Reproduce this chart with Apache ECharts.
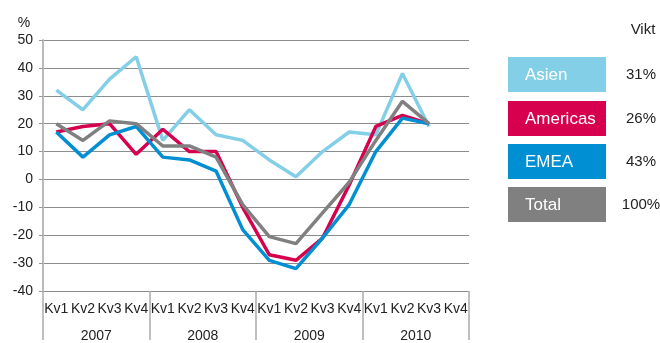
<!DOCTYPE html>
<html>
<head>
<meta charset="utf-8">
<script src="https://cdn.jsdelivr.net/npm/echarts@6/dist/echarts.min.js"></script>
<style>
  html, body { margin: 0; padding: 0; background: #fff; }
  #main { width: 660px; height: 343px; }
</style>
</head>
<body>
<div id="main"></div>
<script>
const quarters = ['Kv1', 'Kv2', 'Kv3', 'Kv4', 'Kv1', 'Kv2', 'Kv3', 'Kv4',
    'Kv1', 'Kv2', 'Kv3', 'Kv4', 'Kv1', 'Kv2', 'Kv3', 'Kv4'];
const years = ['2007', '2008', '2009', '2010'];

const asien = [32, 25, 36, 44, 14, 25, 16, 14, 7, 1, 10, 17, 16, 38, 19, null];
const americas = [17, 19, 20, 9, 18, 10, 10, -10, -27, -29, -21, -2, 19, 23, 20, null];
const emea = [17, 8, 16, 19, 8, 7, 3, -18, -29, -32, -21, -9, 10, 22, 20, null];
const total = [20, 14, 21, 20, 12, 12, 8, -9, -20.5, -23, -12, -1, 14, 28, 20, null];

const names = ['Asien', 'Americas', 'EMEA', 'Total'];
const weights = ['31%', '26%', '43%', '100%'];
const colors = ['#84cfe8', '#d7004e', '#008fd3', '#808080'];

const font = '"Liberation Sans", Arial, sans-serif';
const chart = echarts.init(document.getElementById('main'));

// legend boxes on the right
const boxTop = [57, 101, 144, 187];
const legend = [];
names.forEach((n, i) => {
    legend.push({
        type: 'rect',
        shape: {x: 508, y: boxTop[i], width: 98, height: 35},
        style: {fill: colors[i]}
    });
    legend.push({
        type: 'text',
        x: 525, y: boxTop[i] + 18,
        style: {text: n, fill: '#fff', font: '17px ' + font, verticalAlign: 'middle'}
    });
    legend.push({
        type: 'text',
        x: 641, y: boxTop[i] + 18,
        style: {text: weights[i], fill: '#222', font: '15px ' + font, align: 'center', verticalAlign: 'middle'}
    });
});
legend.push({
    type: 'text', x: 643, y: 30,
    style: {text: 'Vikt', fill: '#222', font: '15px ' + font, align: 'center', verticalAlign: 'middle'}
});
legend.push({
    type: 'text', x: 24, y: 23,
    style: {text: '%', fill: '#222', font: '14px ' + font, align: 'center', verticalAlign: 'middle'}
});

const line = (name, data, color) => ({
    name: name,
    type: 'line',
    data: data,
    symbol: 'none',
    lineStyle: {width: 3.5, color: color},
    itemStyle: {color: color}
});

const option = {
    animation: false,
    textStyle: {fontFamily: font},
    grid: {left: 43, right: 191, top: 40, bottom: 49},
    xAxis: [
        {
            type: 'category',
            data: quarters,
            boundaryGap: true,
            axisLine: {show: false},
            axisTick: {show: false},
            axisLabel: {interval: 0, margin: 11, fontSize: 14, color: '#222'}
        },
        {
            type: 'category',
            data: years,
            position: 'bottom',
            boundaryGap: true,
            axisLine: {show: false},
            axisTick: {show: true, length: 49, interval: 0, lineStyle: {color: '#aaa', width: 1.5}},
            axisLabel: {interval: 0, margin: 38, fontSize: 14, color: '#222'},
            splitLine: {show: false}
        }
    ],
    yAxis: {
        type: 'value',
        min: -40,
        max: 50,
        interval: 10,
        axisLine: {show: true, lineStyle: {color: '#bbb', width: 2}},
        axisTick: {show: true, length: 4, lineStyle: {color: '#999'}},
        axisLabel: {margin: 10, fontSize: 14, color: '#222'},
        splitLine: {lineStyle: {color: '#8c8c8c', width: 1}}
    },
    graphic: legend,
    series: [
        line('Asien', asien, colors[0]),
        line('Americas', americas, colors[1]),
        line('EMEA', emea, colors[2]),
        line('Total', total, colors[3])
    ]
};
option && chart.setOption(option);
</script>
</body>
</html>
